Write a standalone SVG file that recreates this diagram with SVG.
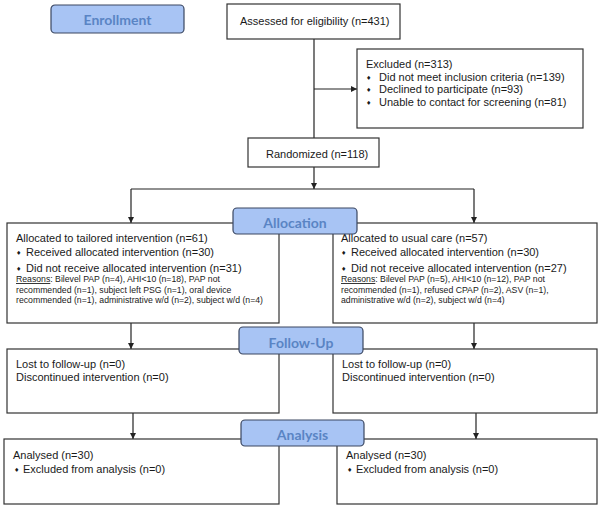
<svg xmlns="http://www.w3.org/2000/svg" width="600" height="508" viewBox="0 0 600 508">
<style>
.box{fill:#fff;stroke:#333;stroke-width:1.2}
.lbl{fill:#a8c4f4;stroke:#3a4660;stroke-width:1.2}
.lt{font-family:Lato,"Open Sans",sans-serif;font-weight:bold;font-size:14px;fill:#5a84c4;text-anchor:middle}
.t{font-family:"Liberation Sans",Arial,sans-serif;font-size:11px;fill:#1a1a1a}
.s{font-family:"Liberation Sans",Arial,sans-serif;font-size:8.7px;fill:#1a1a1a}
.b{font-family:"DejaVu Sans",sans-serif;font-size:6px;fill:#1a1a1a}
.c{fill:none;stroke:#222;stroke-width:1.2}
</style>
<defs>
<marker id="ah" viewBox="0 0 10 10" refX="10" refY="5" markerWidth="6" markerHeight="6" markerUnits="userSpaceOnUse" orient="auto">
<path d="M0,0 L10,5 L0,10 z" fill="#222"/>
</marker>
</defs>
<rect width="600" height="508" fill="#fff"/>
<g id="connectors">
<line class="c" x1="314" y1="39" x2="314" y2="138"/>
<line class="c" x1="314" y1="89" x2="357" y2="89" marker-end="url(#ah)"/>
<line class="c" x1="314" y1="167" x2="314" y2="189" marker-end="url(#ah)"/>
<line class="c" x1="131" y1="189" x2="474" y2="189"/>
<line class="c" x1="131" y1="189" x2="131" y2="223" marker-end="url(#ah)"/>
<line class="c" x1="474" y1="189" x2="474" y2="223" marker-end="url(#ah)"/>
<line class="c" x1="131" y1="323" x2="131" y2="349" marker-end="url(#ah)"/>
<line class="c" x1="474" y1="323" x2="474" y2="349" marker-end="url(#ah)"/>
<line class="c" x1="133" y1="413" x2="133" y2="439" marker-end="url(#ah)"/>
<line class="c" x1="476" y1="413" x2="476" y2="439" marker-end="url(#ah)"/>
</g>
<g id="assessed">
<rect class="box" x="227" y="4" width="173" height="35"/>
<text class="t" x="240" y="25">Assessed for eligibility (n=431)</text>
</g>
<g id="excluded">
<rect class="box" x="357" y="49" width="226" height="79"/>
<text class="t" x="366" y="68">Excluded (n=313)</text>
<text class="b" x="366" y="80">♦</text><text class="t" x="379" y="81">Did not meet inclusion criteria (n=139)</text>
<text class="b" x="366" y="92">♦</text><text class="t" x="379" y="93">Declined to participate (n=93)</text>
<text class="b" x="366" y="105">♦</text><text class="t" x="379" y="106">Unable to contact for screening (n=81)</text>
</g>
<g id="randomized">
<rect class="box" x="248" y="138" width="131" height="29"/>
<text class="t" x="266" y="158">Randomized (n=118)</text>
</g>
<g id="alloc-left">
<rect class="box" x="7" y="223" width="272" height="100"/>
<text class="t" x="16" y="242">Allocated to tailored intervention (n=61)</text>
<text class="b" x="16" y="255">♦</text><text class="t" x="26" y="256">Received allocated intervention (n=30)</text>
<text class="b" x="16" y="271">♦</text><text class="t" x="26" y="272">Did not receive allocated intervention (n=31)</text>
<text class="s" x="16" y="282"><tspan text-decoration="underline">Reasons</tspan>: Bilevel PAP (n=4), AHI&lt;10 (n=18), PAP not</text>
<text class="s" x="16" y="293">recommended (n=1), subject left PSG (n=1), oral device</text>
<text class="s" x="16" y="303">recommended (n=1), administrative w/d (n=2), subject w/d (n=4)</text>
</g>
<g id="alloc-right">
<rect class="box" x="333" y="223" width="264" height="100"/>
<text class="t" x="341" y="242">Allocated to usual care (n=57)</text>
<text class="b" x="341" y="255">♦</text><text class="t" x="351" y="256">Received allocated intervention (n=30)</text>
<text class="b" x="341" y="271">♦</text><text class="t" x="351" y="272">Did not receive allocated intervention (n=27)</text>
<text class="s" x="341" y="282"><tspan text-decoration="underline">Reasons</tspan>: Bilevel PAP (n=5), AHI&lt;10 (n=12), PAP not</text>
<text class="s" x="341" y="293">recommended (n=1), refused CPAP (n=2), ASV (n=1),</text>
<text class="s" x="341" y="303">administrative w/d (n=2), subject w/d (n=4)</text>
</g>
<g id="follow-left">
<rect class="box" x="7" y="349" width="272" height="64"/>
<text class="t" x="16" y="368">Lost to follow-up (n=0)</text>
<text class="t" x="16" y="381">Discontinued intervention (n=0)</text>
</g>
<g id="follow-right">
<rect class="box" x="333" y="349" width="264" height="64"/>
<text class="t" x="342" y="368">Lost to follow-up (n=0)</text>
<text class="t" x="342" y="381">Discontinued intervention (n=0)</text>
</g>
<g id="analysis-left">
<rect class="box" x="4" y="439" width="275" height="65"/>
<text class="t" x="13" y="459">Analysed (n=30)</text>
<text class="b" x="14" y="472">♦</text><text class="t" x="23" y="473">Excluded from analysis (n=0)</text>
</g>
<g id="analysis-right">
<rect class="box" x="337" y="439" width="260" height="65"/>
<text class="t" x="346" y="459">Analysed (n=30)</text>
<text class="b" x="347" y="472">♦</text><text class="t" x="356" y="473">Excluded from analysis (n=0)</text>
</g>
<g id="label-enrollment">
<rect class="lbl" x="51" y="5" width="133" height="28" rx="4"/>
<text class="lt" x="117.5" y="25">Enrollment</text>
</g>
<g id="label-allocation">
<rect class="lbl" x="233" y="208" width="124" height="26" rx="4"/>
<text class="lt" x="295" y="228">Allocation</text>
</g>
<g id="label-followup">
<rect class="lbl" x="239" y="327" width="124" height="27" rx="4"/>
<text class="lt" x="301" y="348">Follow-Up</text>
</g>
<g id="label-analysis">
<rect class="lbl" x="241" y="420" width="123" height="26" rx="4"/>
<text class="lt" x="302.5" y="440">Analysis</text>
</g>
</svg>
